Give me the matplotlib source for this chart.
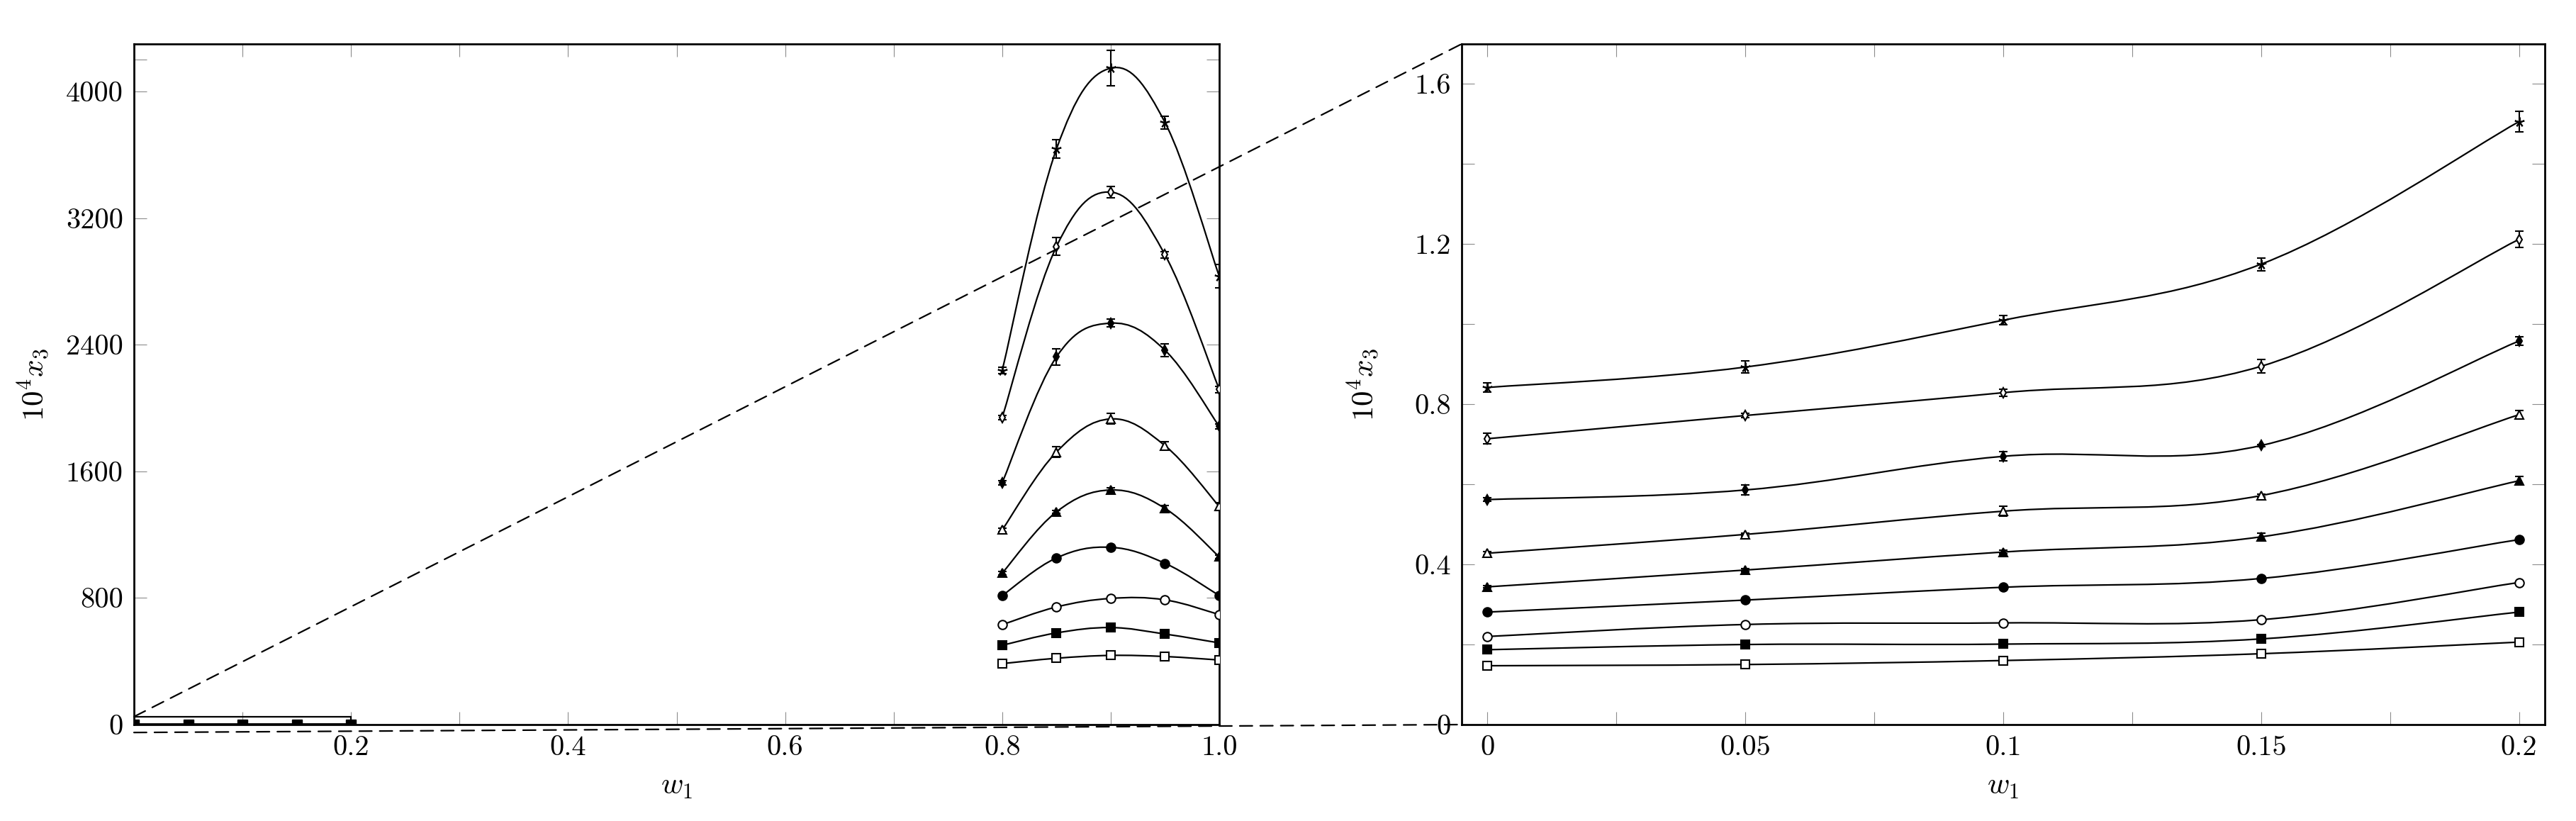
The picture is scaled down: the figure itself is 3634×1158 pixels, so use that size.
import numpy as np
import matplotlib
matplotlib.use("Agg")
import matplotlib.pyplot as plt
from matplotlib.path import Path
from matplotlib.patches import PathPatch, Rectangle, ConnectionPatch

plt.rcParams['font.family'] = 'cmr10'
plt.rcParams['mathtext.fontset'] = 'cm'
plt.rcParams['axes.unicode_minus'] = False

# w1 grid
x_low = [0.0, 0.05, 0.1, 0.15, 0.2]
x_high = [0.8, 0.85, 0.9, 0.95, 1.0]

# 10^4 x3, small w1 (zoomed panel), series top -> bottom
low_1 = [0.842, 0.893, 1.010, 1.150, 1.506]
low_2 = [0.714, 0.772, 0.829, 0.895, 1.212]
low_3 = [0.562, 0.586, 0.670, 0.697, 0.958]
low_4 = [0.428, 0.475, 0.533, 0.572, 0.774]
low_5 = [0.344, 0.386, 0.431, 0.469, 0.609]
low_6 = [0.281, 0.311, 0.343, 0.365, 0.462]
low_7 = [0.220, 0.250, 0.254, 0.262, 0.355]
low_8 = [0.187, 0.200, 0.201, 0.214, 0.281]
low_9 = [0.147, 0.150, 0.160, 0.177, 0.206]

low_err_1 = [0.012, 0.015, 0.011, 0.016, 0.026]
low_err_2 = [0.013, 0.005, 0.009, 0.017, 0.020]
low_err_3 = [0.005, 0.013, 0.011, 0.003, 0.010]
low_err_4 = [0.004, 0.004, 0.013, 0.003, 0.010]
low_err_5 = [0.003, 0.004, 0.004, 0.010, 0.010]
low_err_6 = [0.002, 0.002, 0.002, 0.002, 0.002]
low_err_7 = [0.002, 0.002, 0.002, 0.002, 0.002]
low_err_8 = [0.002, 0.002, 0.002, 0.002, 0.002]
low_err_9 = [0.002, 0.002, 0.002, 0.002, 0.002]

# 10^4 x3, large w1
high_1 = [2237, 3636, 4147, 3804, 2832]
high_2 = [1940, 3020, 3364, 2968, 2118]
high_3 = [1528, 2323, 2536, 2365, 1884]
high_4 = [1230, 1722, 1931, 1762, 1378]
high_5 = [957, 1344, 1482, 1366, 1060]
high_6 = [815, 1053, 1120, 1019, 815]
high_7 = [631, 743, 797, 788, 695]
high_8 = [501, 579, 613, 572, 516]
high_9 = [385, 419, 437, 430, 408]

high_err_1 = [20, 58, 112, 40, 75]
high_err_2 = [15, 55, 36, 20, 20]
high_err_3 = [15, 50, 25, 40, 15]
high_err_4 = [12, 35, 34, 25, 25]
high_err_5 = [10, 10, 12, 20, 12]
high_err_6 = [5, 5, 5, 5, 5]
high_err_7 = [5, 5, 5, 5, 5]
high_err_8 = [5, 5, 5, 5, 5]
high_err_9 = [5, 5, 5, 5, 5]

low_all = [low_1, low_2, low_3, low_4, low_5, low_6, low_7, low_8, low_9]
low_err_all = [low_err_1, low_err_2, low_err_3, low_err_4, low_err_5,
               low_err_6, low_err_7, low_err_8, low_err_9]
high_all = [high_1, high_2, high_3, high_4, high_5, high_6, high_7, high_8, high_9]
high_err_all = [high_err_1, high_err_2, high_err_3, high_err_4, high_err_5,
                high_err_6, high_err_7, high_err_8, high_err_9]

# zoom box around the small-w1 region in the left panel
box_x = [0.0, 0.2]
box_y = [-50, 50]

line_w = 1.6
spine_w = 2.0
marker_styles = [
    {"marker": (5, 2, 0), "ms": 10, "mfc": "k"},
    {"marker": "d", "ms": 7, "mfc": "white"},
    {"marker": "d", "ms": 7, "mfc": "k"},
    {"marker": "^", "ms": 9, "mfc": "white"},
    {"marker": "^", "ms": 9, "mfc": "k"},
    {"marker": "o", "ms": 9, "mfc": "k"},
    {"marker": "o", "ms": 9, "mfc": "white"},
    {"marker": "s", "ms": 9, "mfc": "k"},
    {"marker": "s", "ms": 9, "mfc": "white"},
]


def smooth_line(ax, xs, ys, tension=0.55):
    # same idea as tikz "smooth": cubic bezier through the points
    p = np.column_stack([xs, ys]).astype(float)
    f = tension / 3.0
    n = len(p)
    verts = [p[0]]
    codes = [Path.MOVETO]
    for i in range(n - 1):
        prev = p[i - 1] if i > 0 else p[i]
        nxt = p[i + 2] if i + 2 < n else p[i + 1]
        verts += [p[i] + f * (p[i + 1] - prev), p[i + 1] - f * (nxt - p[i]), p[i + 1]]
        codes += [Path.CURVE4] * 3
    ax.add_patch(PathPatch(Path(verts, codes), fill=False, lw=line_w,
                           edgecolor="k", zorder=2))


def draw_series(ax, xs, ys, errs, style, markers=True):
    smooth_line(ax, xs, ys)
    ax.errorbar(xs, ys, yerr=errs, fmt="none", ecolor="k", elinewidth=1.5,
                capsize=4.5, capthick=1.5, zorder=3)
    if markers:
        ax.plot(xs, ys, linestyle="none", marker=style["marker"], ms=style["ms"],
                mfc=style["mfc"], mec="k", mew=1.5, zorder=4)


def style_axis(ax):
    for s in ax.spines.values():
        s.set_linewidth(spine_w)
    ax.tick_params(which="both", direction="in", top=True, right=True,
                   length=13, width=0.8, color="#8c8c8c", labelsize=29,
                   pad=11, labelcolor="k")


fig = plt.figure(figsize=(36.34, 11.58), dpi=100)
ax1 = fig.add_axes([0.05201, 0.11744, 0.42130, 0.82902])
ax2 = fig.add_axes([0.56742, 0.11744, 0.42047, 0.82902])

# left panel: full range
for k in range(9):
    draw_series(ax1, x_high, high_all[k], high_err_all[k], marker_styles[k])
for k in range(9):
    smooth_line(ax1, x_low, low_all[k])
ax1.plot(x_low, low_8, linestyle="none", marker="s", ms=9.5, mfc="k", mec="k", zorder=4)
ax1.add_patch(Rectangle((box_x[0], box_y[0]), box_x[1] - box_x[0], box_y[1] - box_y[0],
                        fill=False, lw=line_w, edgecolor="k", zorder=3))

ax1.set_xlim(0, 1.0)
ax1.set_ylim(0, 4300)
ax1.set_xticks([0.2, 0.4, 0.6, 0.8, 1.0])
ax1.set_xticklabels(["0.2", "0.4", "0.6", "0.8", "1.0"])
ax1.set_xticks([0.1, 0.3, 0.5, 0.7, 0.9], minor=True)
ax1.set_yticks([0, 800, 1600, 2400, 3200, 4000])
ax1.set_yticklabels(["0", "800", "1600", "2400", "3200", "4000"])
ax1.set_yticks([4200], minor=True)
style_axis(ax1)
ax1.set_xlabel(r"$w_1$", fontsize=31, va="center")
ax1.xaxis.set_label_coords(0.5, -0.092)
ax1.set_ylabel(r"$10^4x_3$", fontsize=31, va="center")
ax1.yaxis.set_label_coords(-0.092, 0.5)

# right panel: zoom on small w1
for k in range(9):
    draw_series(ax2, x_low, low_all[k], low_err_all[k], marker_styles[k])

ax2.set_xlim(-0.005, 0.205)
ax2.set_ylim(0, 1.7)
ax2.set_xticks([0, 0.05, 0.1, 0.15, 0.2])
ax2.set_xticklabels(["0", "0.05", "0.1", "0.15", "0.2"])
ax2.set_xticks([0.025, 0.075, 0.125, 0.175], minor=True)
ax2.set_yticks([0, 0.4, 0.8, 1.2, 1.6])
ax2.set_yticklabels(["0", "0.4", "0.8", "1.2", "1.6"])
ax2.set_yticks([0.2, 0.6, 1.0, 1.4], minor=True)
style_axis(ax2)
ax2.set_xlabel(r"$w_1$", fontsize=31, va="center")
ax2.xaxis.set_label_coords(0.5, -0.092)
ax2.set_ylabel(r"$10^4x_3$", fontsize=31, va="center")
ax2.yaxis.set_label_coords(-0.09, 0.5)

# dashed connectors from the box to the zoomed panel
for yb, corner in [(box_y[1], (0, 1)), (box_y[0], (0, 0))]:
    con = ConnectionPatch(xyA=(box_x[0], yb), coordsA=ax1.transData,
                          xyB=corner, coordsB=ax2.transAxes,
                          linestyle=(0, (8, 5)), lw=line_w, color="k")
    con.set_clip_on(False)
    fig.add_artist(con)

fig.savefig("out.png", dpi=100)
